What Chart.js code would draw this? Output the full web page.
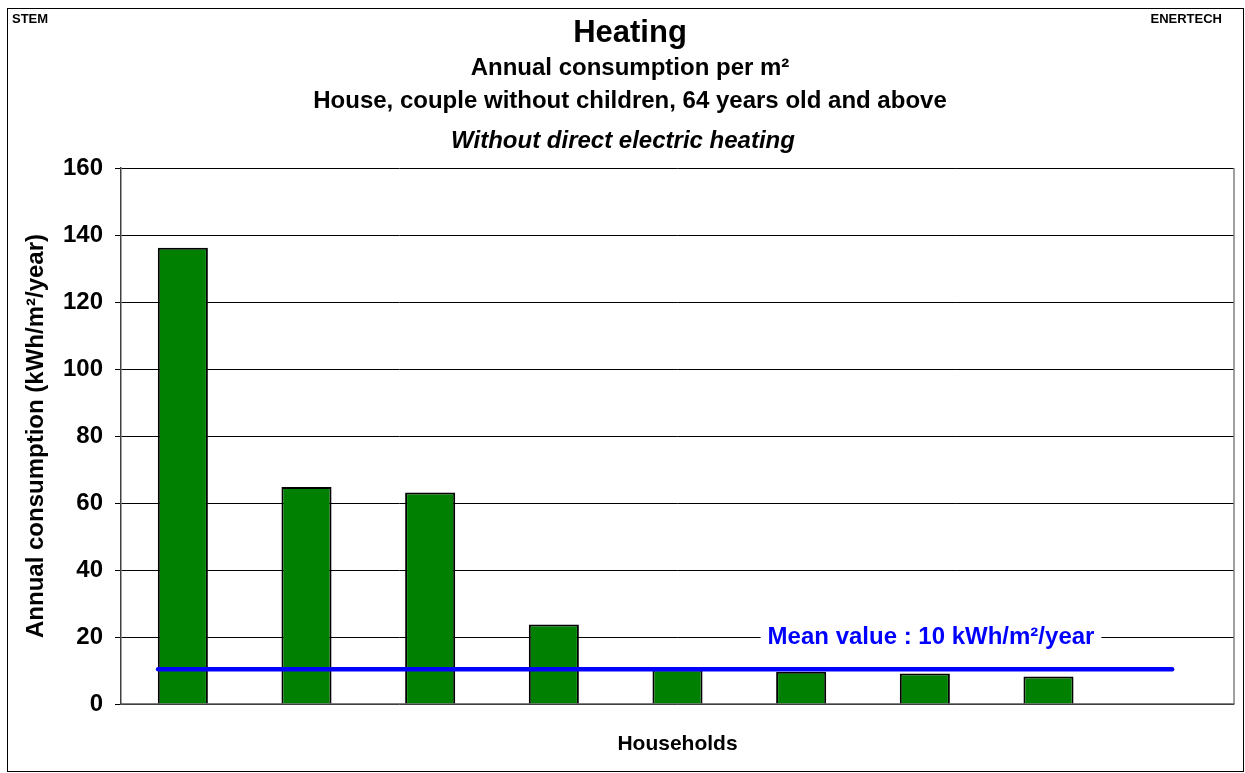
<!DOCTYPE html>
<html>
<head>
<meta charset="utf-8">
<style>
  html, body { margin: 0; padding: 0; background: #fff; }
  #wrap { width: 1245px; height: 773px; }
</style>
<script src="https://cdn.jsdelivr.net/npm/chart.js@4.4.1/dist/chart.umd.min.js"></script>
</head>
<body>
<div id="wrap"><canvas id="c" width="1245" height="773"></canvas></div>
<script>
// ---- data ----
const households = ['1', '2', '3', '4', '5', '6', '7', '8', ''];
const consumption = [136.2, 64.8, 63.1, 23.7, 10.3, 9.6, 9.1, 8.2, null];
const meanValue = 10.4;
const meanSpan = [-0.2, 8];          // household index where the mean line starts / ends
const meanLabel = 'Mean value : 10 kWh/m²/year';
const titleLines = ['Heating', 'Annual consumption per m²', 'House, couple without children, 64 years old and above', 'Without direct electric heating'];
const yTitle = 'Annual consumption (kWh/m²/year)';
const xTitle = 'Households';
const cornerLeft = 'STEM';
const cornerRight = 'ENERTECH';

const FONT = '"Liberation Sans", Arial, Helvetica, sans-serif';

const decor = {
  id: 'decor',
  beforeDraw(chart) {
    const ctx = chart.ctx;
    ctx.save();
    ctx.fillStyle = '#fff';
    ctx.fillRect(0, 0, chart.width, chart.height);
    ctx.strokeStyle = '#000';
    ctx.lineWidth = 1;
    ctx.strokeRect(7.5, 8.5, 1236, 763);
    ctx.restore();
  },
  afterDraw(chart) {
    const ctx = chart.ctx;
    const a = chart.chartArea;
    ctx.save();
    // right border of plot
    ctx.strokeStyle = '#808080';
    ctx.lineWidth = 1.5;
    ctx.beginPath();
    ctx.moveTo(a.right, a.top);
    ctx.lineTo(a.right, a.bottom);
    ctx.stroke();

    // titles
    ctx.fillStyle = '#000';
    ctx.textAlign = 'center';
    ctx.textBaseline = 'middle';
    const cx = 630;
    ctx.font = 'bold 31px ' + FONT;
    ctx.fillText(titleLines[0], cx, 33);
    ctx.font = 'bold 24px ' + FONT;
    ctx.fillText(titleLines[1], cx, 68);
    ctx.fillText(titleLines[2], cx, 101);
    ctx.font = 'italic bold 24px ' + FONT;
    ctx.fillText(titleLines[3], cx - 7, 141);

    // corners
    ctx.font = 'bold 13px ' + FONT;
    ctx.textAlign = 'left';
    ctx.fillText(cornerLeft, 12, 19);
    ctx.textAlign = 'right';
    ctx.fillText(cornerRight, 1222, 19);

    // mean label
    const xs = chart.scales.xMean, ys = chart.scales.y;
    const lx = xs.getPixelForValue(6.05);
    const ly = ys.getPixelForValue(20);
    ctx.font = 'bold 24px ' + FONT;
    const w = ctx.measureText(meanLabel).width;
    ctx.fillStyle = '#fff';
    ctx.fillRect(lx - w / 2 - 7, ly - 14, w + 14, 28);
    ctx.fillStyle = '#0000FF';
    ctx.textAlign = 'center';
    ctx.fillText(meanLabel, lx, ly);
    ctx.restore();
  }
};

new Chart(document.getElementById('c'), {
  type: 'bar',
  data: {
    labels: households,
    datasets: [
      {
        type: 'bar',
        data: consumption,
        backgroundColor: '#008000',
        borderColor: '#000',
        borderWidth: 2,
        categoryPercentage: 1,
        barPercentage: 0.405,
        grouped: false,
        order: 2
      },
      {
        type: 'line',
        xAxisID: 'xMean',
        data: [{ x: meanSpan[0], y: meanValue }, { x: meanSpan[1], y: meanValue }],
        borderColor: '#0000FF',
        borderWidth: 4.5,
        borderCapStyle: 'round',
        pointRadius: 0,
        fill: false,
        order: 1
      }
    ]
  },
  options: {
    responsive: false,
    animation: false,
    layout: { padding: { top: 168, right: 11, bottom: 0, left: 0 } },
    plugins: { legend: { display: false }, tooltip: { enabled: false }, title: { display: false } },
    scales: {
      x: {
        type: 'category',
        offset: true,
        grid: { display: false, drawTicks: false },
        border: { display: true, color: '#808080', width: 1.5 },
        ticks: { display: false },
        title: { display: true, text: xTitle, color: '#000', font: { family: FONT, size: 21, weight: 'bold' }, padding: { top: 0, bottom: 16 } },
        afterFit(s) { s.height = 69; }
      },
      xMean: {
        type: 'linear',
        display: false,
        offset: false,
        grid: { offset: false },
        min: -0.5,
        max: 8.5
      },
      y: {
        min: 0,
        max: 160,
        ticks: { stepSize: 20, color: '#000', padding: 12, font: { family: FONT, size: 24, weight: 'bold' } },
        grid: { color: '#000', lineWidth: 1, tickLength: 6, tickColor: '#000' },
        border: { display: true, color: '#404040', width: 1.5 },
        title: { display: true, text: yTitle, color: '#000', font: { family: FONT, size: 24, weight: 'bold' }, padding: { top: 22, bottom: 0 } },
        afterFit(s) { s.width = 121; }
      }
    }
  },
  plugins: [decor]
});
</script>
</body>
</html>
